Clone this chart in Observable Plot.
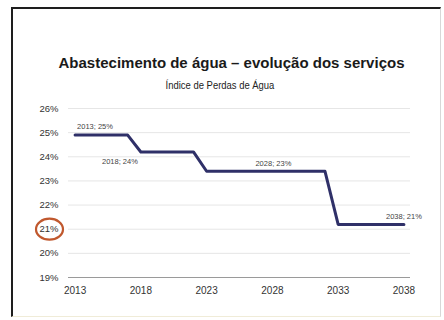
<!DOCTYPE html>
<html>
<head>
<meta charset="utf-8">
<script src="https://cdn.jsdelivr.net/npm/d3@7"></script>
<script src="https://cdn.jsdelivr.net/npm/@observablehq/plot@0.6"></script>
<style>
  html, body { margin: 0; padding: 0; background: #fff; }
  #wrap { position: relative; width: 444px; height: 320px; overflow: hidden; background: #fff; }
  #frame { position: absolute; left: 11px; top: 7px; width: 430px; height: 310px;
           border-left: 2px solid #1e1e1e; border-top: 2px solid #1e1e1e;
           border-right: 1px solid #d8d8d8; border-bottom: 1px solid #f0ecd8; box-sizing: border-box; }
  #title { position: absolute; left: 0; width: 463px; top: 54px; text-align: center;
           font-family: "Liberation Sans", Arial, sans-serif; font-weight: bold; font-size: 15px;
           color: #1a1a1a; white-space: nowrap; }
  #subtitle { position: absolute; left: 0; width: 440px; top: 79px; text-align: center;
           font-family: "Liberation Sans", Arial, sans-serif; font-size: 10.5px;
           color: #222; white-space: nowrap; transform: scaleX(0.9); transform-origin: 220px 0; }
  #chart { position: absolute; left: 0; top: 0; }
</style>
</head>
<body>
<div id="wrap">
  <div id="frame"></div>
  <div id="title">Abastecimento de água – evolução dos serviços</div>
  <div id="subtitle">Índice de Perdas de Água</div>
  <div id="chart"></div>
</div>
<script>
const years = [2013,2014,2015,2016,2017,2018,2019,2020,2021,2022,2023,2024,2025,2026,2027,2028,2029,2030,2031,2032,2033,2034,2035,2036,2037,2038];
const losses = [24.9,24.9,24.9,24.9,24.9,24.2,24.2,24.2,24.2,24.2,23.4,23.4,23.4,23.4,23.4,23.4,23.4,23.4,23.4,23.4,21.2,21.2,21.2,21.2,21.2,21.2];
const xTicks = [2013, 2018, 2023, 2028, 2033, 2038];
const yTicks = [19, 20, 21, 22, 23, 24, 25, 26];
const labelYears = [2013, 2018, 2028, 2038];
const labelTexts = ["2013; 25%", "2018; 24%", "2028; 23%", "2038; 21%"];
const highlightTick = 21;

const data = years.map((y, i) => ({year: y, value: losses[i]}));
const labels = labelYears.map((y, i) => ({year: y, value: losses[years.indexOf(y)], text: labelTexts[i]}));

// placement of each data label relative to its point
const place = [
  {anchor: "start", dx: 2, dy: -8},
  {anchor: "end", dx: -3, dy: 10},
  {anchor: "middle", dx: 1, dy: -8},
  {anchor: "middle", dx: 0, dy: -8}
];

const font = "'Liberation Sans', Arial, sans-serif";

const plot = Plot.plot({
  width: 444,
  height: 320,
  marginTop: 108,
  marginBottom: 43,
  marginLeft: 68,
  marginRight: 34,
  style: {fontFamily: font, background: "transparent", color: "#333"},
  x: {domain: [2012.5, 2038.5], label: null},
  y: {domain: [19, 26], label: null},
  marks: [
    Plot.ruleY(yTicks.filter(d => d > 19), {stroke: "#e6e6e6", strokeWidth: 1}),
    Plot.ruleY([19], {stroke: "#9a9a9a", strokeWidth: 1}),
    Plot.axisX({ticks: xTicks, tickFormat: d => String(d), tickSize: 0, tickPadding: 9, fontSize: 10, fill: "#333", label: null}),
    Plot.axisY({ticks: yTicks, tickFormat: d => d + "%", tickSize: 0, tickPadding: 10, fontSize: 9.5, fill: "#333", label: null}),
    Plot.line(data, {x: "year", y: "value", stroke: "#2f3068", strokeWidth: 3, curve: "linear"}),
    ...labels.map((d, i) => Plot.text([d], {
      x: "year", y: "value", text: "text",
      textAnchor: place[i].anchor, dx: place[i].dx, dy: place[i].dy,
      fontSize: 7.5, fill: "#444"
    }))
  ]
});
document.getElementById("chart").appendChild(plot);

// highlight circle around the 21% tick label
const yScale = plot.scale("y");
const svg = d3.select(plot);
svg.append("ellipse")
  .attr("cx", 49.5)
  .attr("cy", yScale.apply(highlightTick) + 0.5)
  .attr("rx", 13.5)
  .attr("ry", 10.5)
  .attr("fill", "none")
  .attr("stroke", "#c0582e")
  .attr("stroke-width", 2.2);
</script>
</body>
</html>
